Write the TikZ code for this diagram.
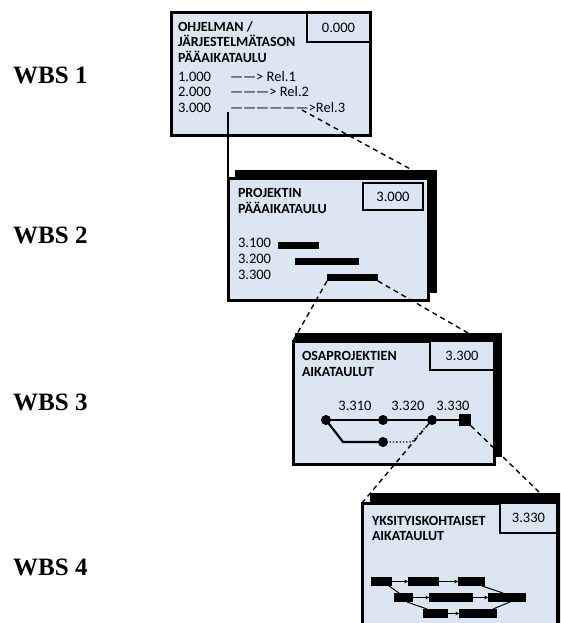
\documentclass[tikz,border=0pt]{standalone}
\usepackage{fontspec}
\setmainfont{Carlito}
\newfontfamily\wbsfont{Liberation Serif}
\usetikzlibrary{arrows.meta}
\definecolor{boxfill}{RGB}{220,230,242}

\begin{document}
\begin{tikzpicture}[x=1pt,y=-1pt,
  lbl/.style={inner sep=0pt, outer sep=0pt, anchor=base west, font=\fontsize{14.5}{16}\selectfont},
  ttl/.style={lbl, font=\fontsize{14}{16}\selectfont\bfseries},
  num/.style={inner sep=0pt, outer sep=0pt, font=\fontsize{14.5}{16}\selectfont},
  wbs/.style={inner sep=0pt, anchor=base west, font=\wbsfont\bfseries\fontsize{25}{28}\selectfont},
  frame/.style={draw=black, line width=3pt, fill=boxfill, inner sep=0pt, outer sep=0pt, anchor=north west},
  backing/.style={fill=black, inner sep=0pt, outer sep=0pt, anchor=north west},
  numbox/.style={draw=black, line width=1.8pt, fill=boxfill, inner sep=0pt, outer sep=0pt, anchor=north west},
  conn/.style={black, line width=1.4pt, dash pattern=on 5pt off 4pt},
  bar/.style={fill=black, inner sep=0pt, outer sep=0pt, anchor=north west},
  dot/.style={circle, fill=black, minimum size=10pt, inner sep=0pt, outer sep=0pt},
  link/.style={line width=2.2pt},
  blk/.style={fill=black, inner sep=0pt, outer sep=0pt, anchor=north west, minimum height=9pt},
  flow/.style={line width=1pt, -{Stealth[length=3.5pt,width=3.5pt]}},
  tie/.style={line width=1pt}
]
\fill[white] (0,0) rectangle (560,623);
\clip (0,0) rectangle (560,623);

% level labels
\node[wbs] (w1) at (13,84) {WBS 1};
\node[wbs] (w2) at (13,243) {WBS 2};
\node[wbs] (w3) at (13,410) {WBS 3};
\node[wbs] (w4) at (13,575) {WBS 4};

% ---------- level 1: programme schedule ----------
\node[frame, minimum width=199pt, minimum height=122pt] (b1) at (171,13) {};
\node[numbox, minimum width=63pt, minimum height=29pt] (n1box) at (307,13) {};
\node[num] (n1) at (n1box.center) {0.000};
\node[ttl] (t1a) at (178,32) {OHJELMAN /};
\node[ttl] (t1b) at (178,47) {JÄRJESTELMÄTASON};
\node[ttl] (t1c) at (178,63) {PÄÄAIKATAULU};
\node[lbl] (c1) at (178,82) {1.000};
\node[lbl] (r1) at (230,82) {——> Rel.1};
\node[lbl] (c2) at (178,97) {2.000};
\node[lbl] (r2) at (230,97) {———> Rel.2};
\node[lbl] (c3) at (178,113) {3.000};
\node[lbl] (r3) at (230,113) {——————>Rel.3};
\coordinate (s3) at (228,112);
\coordinate (e3) at (302,110);

% ---------- level 2: project schedule ----------
\node[backing, minimum width=202pt, minimum height=123pt] (b2s) at (235,170) {};
\node[frame, minimum width=200pt, minimum height=122pt] (b2) at (228,178) {};
\node[numbox, minimum width=60pt, minimum height=27pt] (n2box) at (363,183) {};
\node[num] (n2) at (n2box.center) {3.000};
\node[ttl] (t2a) at (238,197) {PROJEKTIN};
\node[ttl] (t2b) at (238,213) {PÄÄAIKATAULU};
\node[lbl] (g1) at (238,247) {3.100};
\node[lbl] (g2) at (238,263) {3.200};
\node[lbl] (g3) at (238,279) {3.300};
\node[bar, minimum width=41pt, minimum height=7pt] (bar1) at (278,242) {};
\node[bar, minimum width=64pt, minimum height=7pt] (bar2) at (295,258) {};
\node[bar, minimum width=51pt, minimum height=7pt] (bar3) at (327,274) {};

\draw[line width=1.2pt] (s3) -- (b2.north west);
\coordinate (e3end) at (412,170);
\draw[conn] (e3) -- (e3end);

% ---------- level 3: sub-project schedules ----------
\node[backing, minimum width=207pt, minimum height=124pt] (b3s) at (295,333) {};
\node[frame, minimum width=201pt, minimum height=123pt] (b3) at (293,341) {};
\node[numbox, minimum width=64pt, minimum height=29pt] (n3box) at (430,341) {};
\node[num] (n3) at (n3box.center) {3.300};
\node[ttl] (t3a) at (302,360) {OSAPROJEKTIEN};
\node[ttl] (t3b) at (302,376) {AIKATAULUT};
\node[lbl, anchor=base] (m1) at (355,410) {3.310};
\node[lbl, anchor=base] (m2) at (408,410) {3.320};
\node[lbl, anchor=base] (m3) at (453,410) {3.330};
\coordinate (bend) at (343,442);
\coordinate (kink) at (412,442);
\draw[link] (326,420) -- (465,420);
\draw[link] (326,420) -- (bend) -- (383,442);
\draw[line width=1.3pt, dotted] (383,442) -- (kink) -- (432,420);
\node[dot] (p1) at (326,420) {};
\node[dot] (p2) at (383,420) {};
\node[dot] (p3) at (432,420) {};
\node[dot] (p4) at (383,442) {};
\node[fill=black, minimum size=12pt, inner sep=0pt, outer sep=0pt] (sq) at (465,420) {};

\coordinate (b3tr) at (468,333);
\draw[conn] (bar3.south west) -- (b3.north west);
\draw[conn] (bar3.south east) -- (b3tr);

% ---------- level 4: detailed schedules ----------
\node[backing, minimum width=210pt, minimum height=150pt] (b4s) at (370,493) {};
\node[frame, minimum width=195pt, minimum height=140pt] (b4) at (362,503) {};
\node[numbox, minimum width=57pt, minimum height=30pt] (n4box) at (500,503) {};
\node[num] (n4) at (n4box.center) {3.330};
\node[ttl] (t4a) at (372,525) {YKSITYISKOHTAISET};
\node[ttl] (t4b) at (372,540) {AIKATAULUT};

\node[blk, minimum width=21pt] (A) at (371,577) {};
\node[blk, minimum width=31pt] (B) at (408,577) {};
\node[blk, minimum width=27pt] (C) at (458,577) {};
\node[blk, minimum width=19pt] (D) at (394,593) {};
\node[blk, minimum width=44pt] (E) at (429,593) {};
\node[blk, minimum width=38pt] (F) at (488,593) {};
\node[blk, minimum width=25pt] (G) at (423,609) {};
\node[blk, minimum width=38pt] (H) at (459,609) {};
\draw[flow] (A) -- (B);
\draw[flow] (B) -- (C);
\draw[flow] (D) -- (E);
\draw[flow] (E) -- (F);
\draw[flow] (G) -- (H);
\draw[tie] ([xshift=-3pt]A.south east) -- ([xshift=5pt]D.north west);
\draw[tie] ([xshift=-3pt]C.south east) -- ([xshift=15pt]F.north west);
\draw[tie] ([xshift=-6pt]D.south east) -- ([xshift=4pt]G.north west);
\draw[tie] ([xshift=-4pt]H.north east) -- ([xshift=22pt]F.south west);

\coordinate (b4tr) at (540,493);
\draw[conn] (p3) -- (b4.north west);
\draw[conn] (sq) -- (b4tr);
\end{tikzpicture}
\end{document}
